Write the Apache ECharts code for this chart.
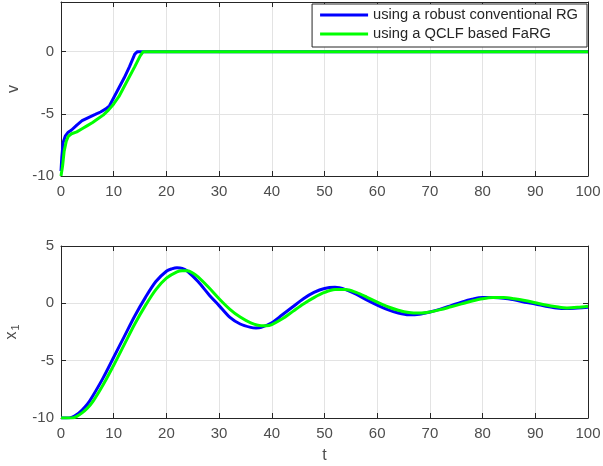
<!DOCTYPE html>
<html><head><meta charset="utf-8">
<script src="https://cdn.jsdelivr.net/npm/echarts@6/dist/echarts.min.js"></script>
<style>html,body{margin:0;padding:0;background:#fff}#c{width:603px;height:466px}</style>
</head><body><div id="c"></div>
<script>
var seriesNames = ['using a robust conventional RG', 'using a QCLF based FaRG'];
var xTicks = [0,10,20,30,40,50,60,70,80,90,100];
var vTicks = [-10,-5,0];
var x1Ticks = [-10,-5,0,5];

var tVBlue = [0, 0.15, 0.4, 0.8, 1.3, 2, 3, 4, 5.2, 6.5, 7.5, 8.5, 9.2, 10, 11, 12, 13, 14, 14.5, 15.6, 100];
var vBlue  = [-9.6, -8.5, -7.3, -6.8, -6.5, -6.3, -5.9, -5.55, -5.3, -5.05, -4.85, -4.6, -4.35, -3.7, -2.9, -2.1, -1.2, -0.2, 0, 0, 0];
var tVGreen = [0, 0.3, 0.6, 1.0, 1.4, 2, 3, 4, 5, 6, 7, 8, 9, 10, 11, 12, 13, 14, 15, 15.6, 100];
var vGreen  = [-10, -9.2, -8.0, -7.2, -6.8, -6.6, -6.45, -6.2, -5.95, -5.7, -5.4, -5.1, -4.7, -4.2, -3.6, -2.8, -2.0, -1.2, -0.35, 0, 0];

var tX1Blue = [0,1,2,3,4,5,6,8,10,12,14,16,18,20,21,22,23,24,26,28,30,32,34,36,37,38,40,42,44,46,48,50,52,54,56,58,60,62,64,66,68,70,72,74,76,78,80,82,84,86,88,90,92,94,96,98,100];
var x1Blue  = [-10,-10,-9.95,-9.7,-9.3,-8.8,-8.1,-6.5,-4.7,-2.9,-1.1,0.5,1.9,2.8,3.0,3.1,3.05,2.8,1.9,0.8,-0.2,-1.2,-1.8,-2.1,-2.15,-2.1,-1.7,-1.0,-0.3,0.4,0.95,1.3,1.4,1.2,0.8,0.3,-0.15,-0.55,-0.85,-1.0,-0.95,-0.75,-0.5,-0.2,0.1,0.35,0.5,0.5,0.45,0.3,0.1,-0.05,-0.25,-0.4,-0.45,-0.4,-0.35];
var tX1Green = [0,1,2,3,4,5,6,8,10,12,14,16,18,20,22,23,24,25,26,28,30,32,34,36,38,39,40,42,44,46,48,50,52,54,56,58,60,62,64,66,68,70,72,74,76,78,80,82,84,86,88,90,92,94,96,98,100];
var x1Green  = [-10,-10,-10,-9.85,-9.55,-9.15,-8.6,-7.1,-5.4,-3.6,-1.8,-0.2,1.2,2.2,2.75,2.85,2.85,2.65,2.3,1.4,0.4,-0.5,-1.2,-1.7,-1.95,-1.95,-1.85,-1.35,-0.7,-0.05,0.5,0.95,1.2,1.2,0.95,0.55,0.1,-0.3,-0.6,-0.8,-0.85,-0.75,-0.55,-0.3,-0.05,0.2,0.4,0.5,0.5,0.4,0.25,0.05,-0.15,-0.3,-0.4,-0.35,-0.25];

function pairs(t, v){ return t.map(function(x,i){ return [x, v[i]]; }); }

var FONT = 'Liberation Sans, Arial, sans-serif';
var labelColor = '#4d4d4d';
var axisColor = '#262626';

function xAx(gi, bottom){
  return {
    type:'value', gridIndex:gi, min:0, max:100, interval:10, position: bottom?'bottom':'top',
    axisLine:{show:true, onZero:false, lineStyle:{color:axisColor, width:1}},
    axisTick:{show:true, inside:true, length:5, lineStyle:{color:axisColor}},
    axisLabel:{show:bottom, color:labelColor, fontSize:15, fontFamily:FONT, margin:8},
    splitLine:{show:bottom, lineStyle:{color:'#e3e3e3', width:1}},
    name: (bottom && gi===1) ? 't' : '', nameLocation:'middle', nameGap:30,
    nameTextStyle:{color:labelColor, fontSize:16, fontFamily:FONT}
  };
}
function yAx(gi, left, min, max, name){
  return {
    type:'value', gridIndex:gi, min:min, max:max, interval:5, position: left?'left':'right',
    axisLine:{show:true, onZero:false, lineStyle:{color:axisColor, width:1}},
    axisTick:{show:true, inside:true, length:5, lineStyle:{color:axisColor}},
    axisLabel:{show:left, color:labelColor, fontSize:15, fontFamily:FONT, margin:7,
      formatter:function(v){ return (min===-10 && max===4 && v>0) ? '' : String(v); }},
    splitLine:{show:left, lineStyle:{color:'#e3e3e3', width:1}},
    name: left ? name : '', nameLocation:'middle', nameGap:38, nameRotate:90,
    nameTextStyle:{color:labelColor, fontSize:16, fontFamily:FONT,
      rich:{a:{fontSize:16, color:labelColor, fontFamily:FONT}, b:{fontSize:11, color:labelColor, fontFamily:FONT, verticalAlign:'bottom', padding:[8,0,0,1]}}}
  };
}

var chart = echarts.init(document.getElementById('c'), null, {renderer:'canvas'});
chart.setOption({
  animation:false,
  backgroundColor:'#ffffff',
  grid:[
    {left:61, top:2, width:527, height:174, outerBoundsMode:'none', containLabel:false},
    {left:61, top:246, width:527, height:172, outerBoundsMode:'none', containLabel:false}
  ],
  xAxis:[xAx(0,true), xAx(1,true), xAx(0,false), xAx(1,false)],
  yAxis:[yAx(0,true,-10,4,'v'), yAx(1,true,-10,5,'{a|x}{b|1}'), yAx(0,false,-10,4,''), yAx(1,false,-10,5,'')],
  legend:{
    data:[{name:seriesNames[0], icon:'rect'}, {name:seriesNames[1], icon:'rect'}],
    orient:'vertical', right:16, top:4, itemWidth:48, itemHeight:3, itemGap:3,
    padding:[3,9,5,8], borderColor:axisColor, borderWidth:1, backgroundColor:'#ffffff',
    textStyle:{color:'#262626', fontSize:14.7, lineHeight:16, fontFamily:FONT, padding:[0,0,0,0]}
  },
  series:[
    {name:seriesNames[0], type:'line', xAxisIndex:0, yAxisIndex:0, data:pairs(tVBlue, vBlue), showSymbol:false, color:'#0000ff', lineStyle:{width:3, color:'#0000ff'}},
    {name:seriesNames[1], type:'line', xAxisIndex:0, yAxisIndex:0, data:pairs(tVGreen, vGreen), showSymbol:false, color:'#00ff00', lineStyle:{width:3, color:'#00ff00'}},
    {name:seriesNames[0], type:'line', xAxisIndex:1, yAxisIndex:1, data:pairs(tX1Blue, x1Blue), smooth:0.3, showSymbol:false, color:'#0000ff', lineStyle:{width:3, color:'#0000ff'}},
    {name:seriesNames[1], type:'line', xAxisIndex:1, yAxisIndex:1, data:pairs(tX1Green, x1Green), smooth:0.3, showSymbol:false, color:'#00ff00', lineStyle:{width:3, color:'#00ff00'}}
  ]
});
</script></body></html>
